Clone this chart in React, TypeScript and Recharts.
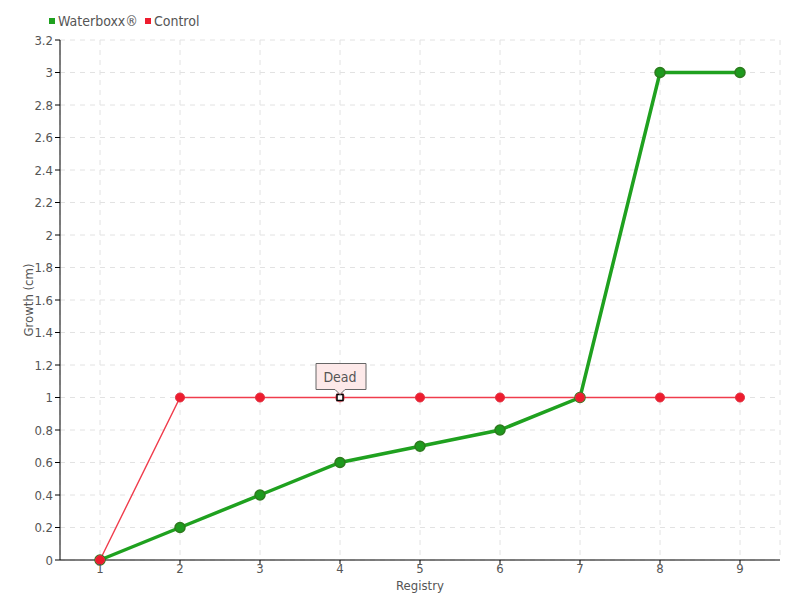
import { LineChart, Line, XAxis, YAxis, CartesianGrid } from 'recharts';

const registry = [1, 2, 3, 4, 5, 6, 7, 8, 9];
const waterboxx = [0, 0.2, 0.4, 0.6, 0.7, 0.8, 1, 3, 3];
const control = [0, 1, 1, 1, 1, 1, 1, 1, 1];
const yTicks = [0, 0.2, 0.4, 0.6, 0.8, 1, 1.2, 1.4, 1.6, 1.8, 2, 2.2, 2.4, 2.6, 2.8, 3, 3.2];
const deadIndex = 3;

const data = registry.map((r, i) => ({ r, waterboxx: waterboxx[i], control: control[i] }));

const font = '"DejaVu Sans Condensed", "Liberation Sans Narrow", "DejaVu Sans", sans-serif';
const textColor = '#555';
const txt = { fontSize: 13, fill: textColor, fontFamily: font, fontStretch: 'condensed' };

function ControlDot(props: any) {
  const { cx, cy, index } = props;
  if (index === deadIndex) {
    return (
      <g key={`cd-${index}`}>
        <circle cx={cx} cy={cy} r={5} fill="#f03040" opacity={0.6} />
        <rect x={cx - 3} y={cy - 3} width={6} height={6} fill="#fff" stroke="#000" strokeWidth={1.5} />
        <path
          d={`M ${cx - 24} ${cy - 34} H ${cx + 26} V ${cy - 8} H ${cx + 5} L ${cx} ${cy - 3} L ${cx - 5} ${cy - 8} H ${cx - 24} Z`}
          fill="#fde9e9"
          stroke="#666"
          strokeWidth={1}
        />
        <text x={cx} y={cy - 16} textAnchor="middle" style={{ ...txt, fontSize: 14 }}>Dead</text>
      </g>
    );
  }
  return <circle key={`cd-${index}`} cx={cx} cy={cy} r={4.5} fill="#ee1c2e" stroke="#e03040" strokeWidth={1} />;
}

export default function App() {
  return (
    <div style={{ position: 'absolute', left: 0, top: 0, width: 800, height: 600, background: '#fff', fontFamily: font, fontStretch: 'condensed' }}>
      <div style={{ position: 'absolute', left: 49, top: 13, display: 'flex', alignItems: 'center', fontSize: 14, color: textColor, zIndex: 2 }}>
        <span style={{ width: 6, height: 6, background: '#1fa11f', marginRight: 3, display: 'inline-block' }} />
        <span style={{ marginRight: 7 }}>Waterboxx®</span>
        <span style={{ width: 6, height: 6, background: '#ee1c2e', marginRight: 3, display: 'inline-block' }} />
        <span>Control</span>
      </div>
      <LineChart width={800} height={600} data={data} margin={{ top: 40, right: 20, bottom: 0, left: 0 }}>
        <CartesianGrid stroke="#e2e2e2" strokeDasharray="5 5" />
        <XAxis
          dataKey="r"
          type="number"
          domain={[0.5, 9.5]}
          ticks={registry}
          height={40}
          stroke="#000"
          tickSize={4}
          tickMargin={0}
          tickLine={{ stroke: '#000' }}
          tick={txt}
          label={{ value: 'Registry', position: 'insideBottom', offset: 10, ...txt }}
        />
        <YAxis
          type="number"
          domain={[0, 3.2]}
          ticks={yTicks}
          width={60}
          stroke="#000"
          tickSize={5}
          tickFormatter={(v: number) => String(Number(v.toFixed(1)))}
          tick={txt}
          label={{ value: 'Growth (cm)', angle: -90, position: 'center', dx: -2, ...txt }}
        />
        <Line
          dataKey="waterboxx"
          stroke="#1fa11f"
          strokeWidth={3.5}
          dot={{ r: 5, fill: '#1e9a1e', stroke: '#2d7a1d', strokeWidth: 1.5 }}
          isAnimationActive={false}
        />
        <Line
          dataKey="control"
          stroke="#f03c4c"
          strokeWidth={1.4}
          dot={ControlDot}
          isAnimationActive={false}
        />
      </LineChart>
    </div>
  );
}
